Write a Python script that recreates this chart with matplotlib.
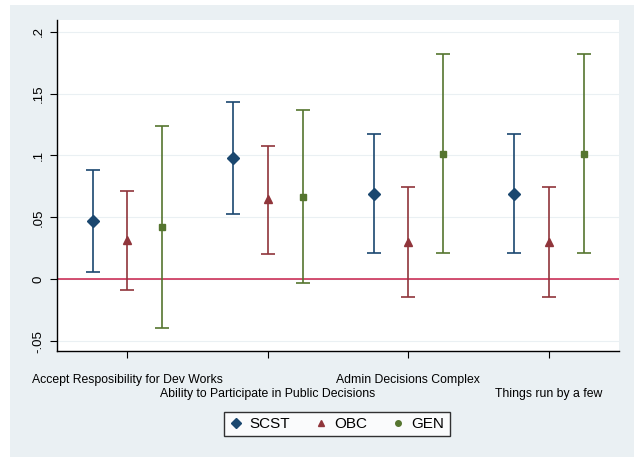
import numpy as np
import matplotlib
matplotlib.use("Agg")
import matplotlib.pyplot as plt
from matplotlib.lines import Line2D
from matplotlib.patches import Rectangle

plt.rcParams["font.family"] = ["Liberation Sans", "DejaVu Sans"]

CATEGORIES = ["Accept Resposibility for Dev Works",
              "Ability to Participate in Public Decisions",
              "Admin Decisions Complex",
              "Things run by a few"]
GROUPS = ["SCST", "OBC", "GEN"]

# point estimate, lower, upper for each group across the four categories
SCST_EST = [0.047, 0.098, 0.069, 0.069]
SCST_LO = [0.006, 0.053, 0.0215, 0.0215]
SCST_HI = [0.088, 0.1435, 0.1175, 0.1175]

OBC_EST = [0.032, 0.0645, 0.030, 0.030]
OBC_LO = [-0.0085, 0.0205, -0.0143, -0.0143]
OBC_HI = [0.0715, 0.108, 0.0745, 0.0745]

GEN_EST = [0.042, 0.0665, 0.1015, 0.1015]
GEN_LO = [-0.0397, -0.003, 0.0215, 0.0215]
GEN_HI = [0.124, 0.137, 0.182, 0.182]

YTICKS = [-0.05, 0, 0.05, 0.1, 0.15, 0.2]
YTICKLABELS = ["-.05", "0", ".05", ".1", ".15", ".2"]

BG = "#eaf0f3"
COLORS = {"SCST": "#1a476f", "OBC": "#90353b", "GEN": "#55752f"}
MARKERS = {"SCST": "D", "OBC": "^", "GEN": "s"}
MSIZE = {"SCST": 6, "OBC": 6, "GEN": 4.5}
OFFSETS = {"SCST": -0.245, "OBC": 0.0, "GEN": 0.25}

series = {"SCST": (SCST_EST, SCST_LO, SCST_HI),
          "OBC": (OBC_EST, OBC_LO, OBC_HI),
          "GEN": (GEN_EST, GEN_LO, GEN_HI)}

fig = plt.figure(figsize=(6.34, 4.57), dpi=100)
fig.patch.set_facecolor("white")
fig.add_artist(Rectangle((10 / 634, 0), 1, 1 - 5 / 457, transform=fig.transFigure,
                         facecolor=BG, edgecolor="none", zorder=-10))

ax = fig.add_axes([57 / 634, 1 - 351 / 457, (619 - 57) / 634, (351 - 20) / 457])
ax.set_facecolor("white")

xpos = np.arange(1, len(CATEGORIES) + 1)
for g in GROUPS:
    est, lo, hi = (np.array(a) for a in series[g])
    x = xpos + OFFSETS[g]
    ax.errorbar(x, est, yerr=[est - lo, hi - est], fmt="none", ecolor=COLORS[g],
                elinewidth=1.2, capsize=5, capthick=1.2, zorder=2)
    ax.plot(x, est, ls="none", marker=MARKERS[g], ms=MSIZE[g], color=COLORS[g], zorder=3)

ax.axhline(0, color="#c8204a", lw=1.1, zorder=1)

ax.set_xlim(0.5, 4.5)
ax.set_ylim(-0.058, 0.2095)
ax.set_yticks(YTICKS)
ax.set_yticklabels(YTICKLABELS, rotation=90, va="center", fontsize=9.5)
ax.set_xticks(xpos)
ax.set_xticklabels([])
# staggered category labels, Stata style (two rows)
for i, (xp, c) in enumerate(zip(xpos, CATEGORIES)):
    ax.text(xp, -0.088 if i % 2 == 0 else -0.131, c, transform=ax.get_xaxis_transform(),
            ha="center", va="center", fontsize=8.8)
ax.tick_params(axis="x", length=5)
ax.tick_params(axis="y", length=5, pad=4)
ax.grid(axis="y", color=BG, lw=0.8)
ax.set_axisbelow(True)
for s in ("top", "right"):
    ax.spines[s].set_visible(False)
for s in ("left", "bottom"):
    ax.spines[s].set_linewidth(1.0)

handles = [Line2D([], [], ls="none", marker="D", ms=5, color=COLORS["SCST"]),
           Line2D([], [], ls="none", marker="^", ms=5, color=COLORS["OBC"]),
           Line2D([], [], ls="none", marker="o", ms=4, color=COLORS["GEN"])]
leg = fig.legend(handles, GROUPS, loc="center", bbox_to_anchor=(337 / 634, 1 - 424 / 457),
                 ncol=3, frameon=True, fancybox=False, fontsize=11, handlelength=0.8,
                 handletextpad=0.5, columnspacing=1.6, borderpad=0.35)
leg.get_frame().set_edgecolor("black")
leg.get_frame().set_linewidth(1.0)

fig.savefig("out.png", dpi=100, facecolor=fig.get_facecolor())
